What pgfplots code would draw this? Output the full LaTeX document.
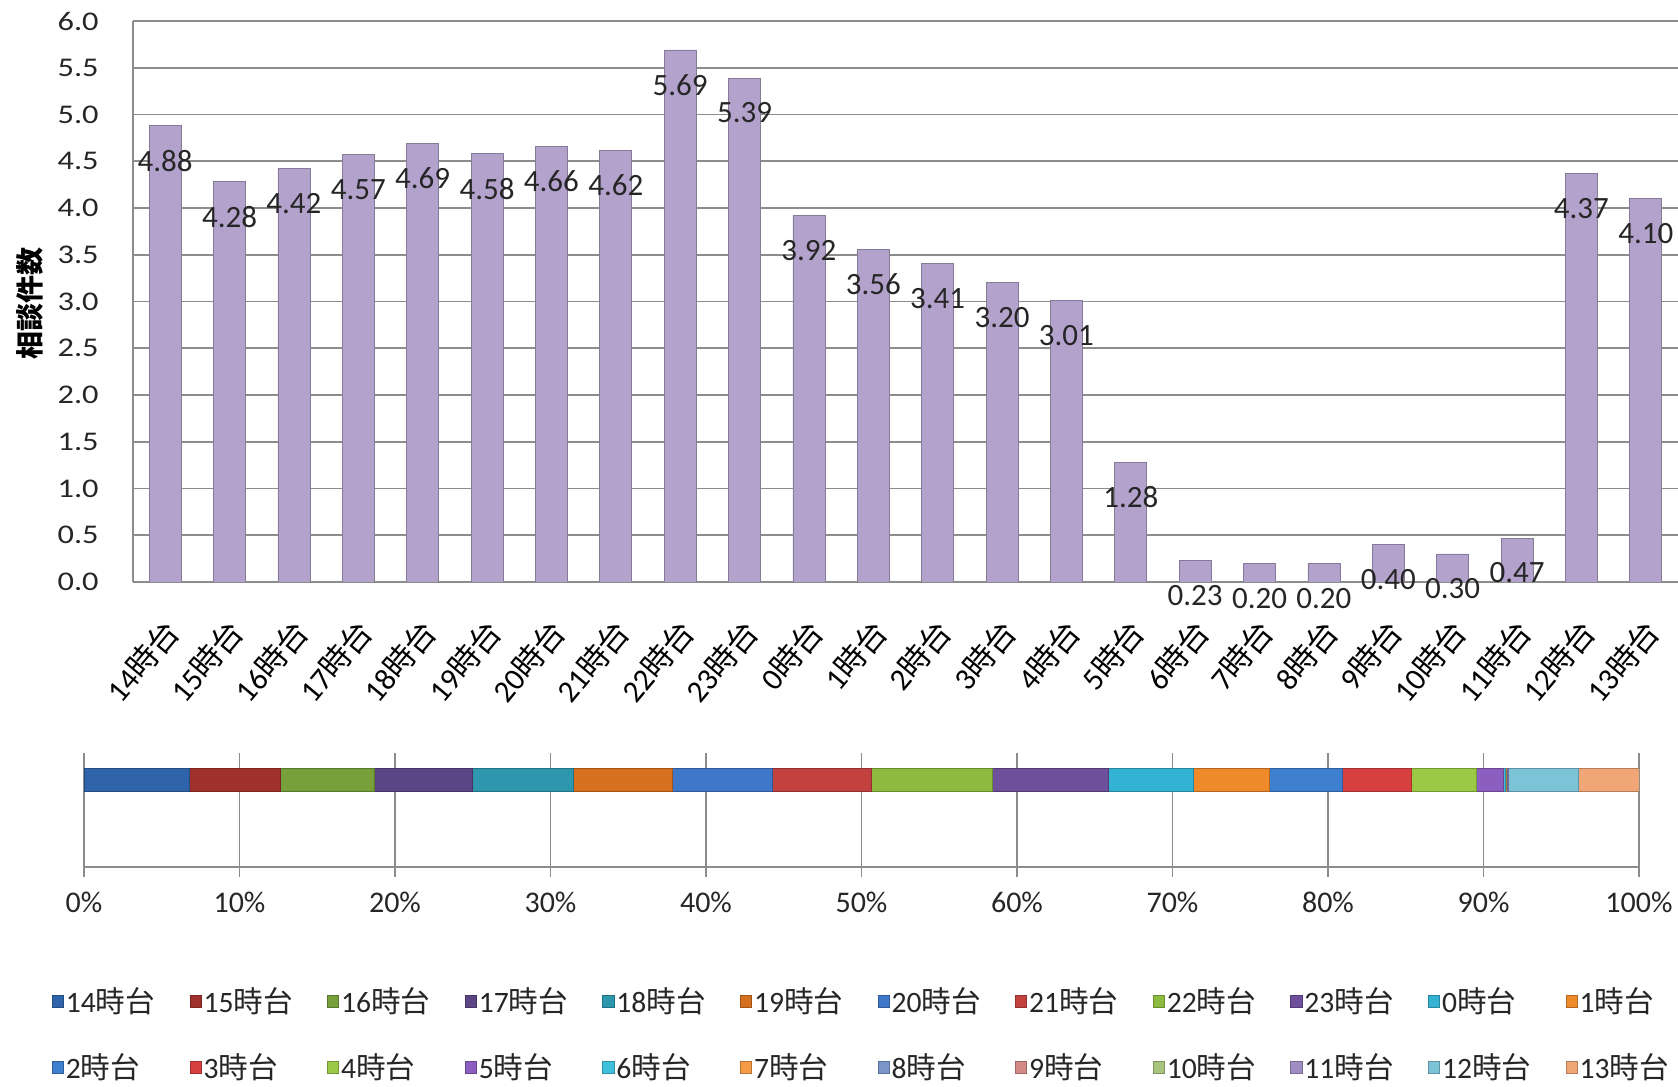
\documentclass[border=0pt]{standalone}
\usepackage{pgfplots}
\pgfplotsset{compat=1.18}
\usepackage{fontspec}
\setmainfont{Carlito}
\newfontfamily\jp{Noto Sans CJK JP}
\newfontfamily\tickfont[FakeStretch=1.2]{Carlito}

\definecolor{barfill}{HTML}{B3A3CC}
\definecolor{gridgray}{HTML}{8C8C8C}
\definecolor{txt}{HTML}{262626}
% colours of the 24 segments, in legend order
\definecolor{s14}{HTML}{2F64AA}
\definecolor{s15}{HTML}{A0302C}
\definecolor{s16}{HTML}{77A03A}
\definecolor{s17}{HTML}{5B4585}
\definecolor{s18}{HTML}{2D97AE}
\definecolor{s19}{HTML}{D5701E}
\definecolor{s20}{HTML}{3F78C8}
\definecolor{s21}{HTML}{C2403E}
\definecolor{s22}{HTML}{8DBB3F}
\definecolor{s23}{HTML}{6E4F9B}
\definecolor{s0}{HTML}{34B2D3}
\definecolor{s1}{HTML}{EE8A2A}
\definecolor{s2}{HTML}{3F7FCF}
\definecolor{s3}{HTML}{D8403F}
\definecolor{s4}{HTML}{9BC845}
\definecolor{s5}{HTML}{8B5EBF}
\definecolor{s6}{HTML}{3EC0DD}
\definecolor{s7}{HTML}{F59A45}
\definecolor{s8}{HTML}{7A95C8}
\definecolor{s9}{HTML}{D38986}
\definecolor{s10}{HTML}{A9C47F}
\definecolor{s11}{HTML}{A08EC3}
\definecolor{s12}{HTML}{7CC3D8}
\definecolor{s13}{HTML}{F0A676}

\newcommand{\jidai}[1]{#1{\jp 時台}}
\newcommand{\seg}[3]{%
  \addplot[fill=#1, draw=#1!75!black, line width=0.4pt, lg] coordinates {(#2,0.76)};
  \addlegendentry{\jidai{#3}}}

\pgfplotsset{lg/.style={legend image code/.code={%
  \draw[##1, line width=0.4pt] (0pt,-2.8pt) rectangle (5.6pt,2.8pt);}}}

\begin{document}
\begin{tikzpicture}[x=1pt,y=1pt]
\path[use as bounding box] (0,0) rectangle (839,543.5);

% top: bars per hour
\begin{axis}[
  at={(66.5pt,252.5pt)}, anchor=south west,
  width=772.5pt, height=280.5pt, scale only axis,
  xmin=-0.5, xmax=23.5, ymin=0, ymax=6,
  axis x line*=bottom, axis y line*=left,
  axis line style={gridgray, line width=0.9pt},
  ymajorgrids, grid style={gridgray, line width=0.9pt},
  major tick length=0pt,
  ytick={0,0.5,1,1.5,2,2.5,3,3.5,4,4.5,5,5.5,6},
  yticklabel style={font=\tickfont\fontsize{13.5}{15}\selectfont, text=txt,
    anchor=east, inner sep=0pt, xshift=-17pt,
    /pgf/number format/.cd, fixed, fixed zerofill, precision=1, assume math mode=true},
  xtick={0,...,23},
  xticklabels={\jidai{14},\jidai{15},\jidai{16},\jidai{17},\jidai{18},\jidai{19},
    \jidai{20},\jidai{21},\jidai{22},\jidai{23},\jidai{0},\jidai{1},\jidai{2},
    \jidai{3},\jidai{4},\jidai{5},\jidai{6},\jidai{7},\jidai{8},\jidai{9},
    \jidai{10},\jidai{11},\jidai{12},\jidai{13}},
  xticklabel style={font=\fontsize{15.5}{18}\selectfont, text=black,
    xshift=-2pt, yshift=-17pt, rotate=50, anchor=north east, inner sep=0pt},
  ylabel={\jp\bfseries 相談件数},
  every axis y label/.style={at={(axis description cs:-0.0667,0.497)},
    rotate=90, anchor=center, font=\fontsize{14}{16}\selectfont},
]
\addplot[ybar, bar width=16pt, fill=barfill, draw=barfill!75!black, line width=0.4pt,
  nodes near coords={\pgfmathprintnumber[fixed,fixed zerofill,precision=2,assume math mode=true]{\pgfplotspointmeta}},
  every node near coord/.append style={font=\fontsize{15.5}{18}\selectfont, text=txt,
    anchor=center, yshift=-17.5pt}]
coordinates {
(0,4.88)(1,4.28)(2,4.42)(3,4.57)(4,4.69)(5,4.58)(6,4.66)(7,4.62)
(8,5.69)(9,5.39)(10,3.92)(11,3.56)(12,3.41)(13,3.20)(14,3.01)(15,1.28)
(16,0.23)(17,0.20)(18,0.20)(19,0.40)(20,0.30)(21,0.47)(22,4.37)(23,4.10)
};
\end{axis}

% bottom: 100% stacked bar
\begin{axis}[
  at={(42pt,110pt)}, anchor=south west,
  width=777.5pt, height=57pt, scale only axis,
  xbar stacked, bar width=11.5pt,
  xmin=0, xmax=100, ymin=0, ymax=1,
  axis x line*=bottom, axis y line=none,
  axis line style={gridgray, line width=0.9pt},
  xmajorgrids, grid style={gridgray, line width=0.9pt},
  tick style={gridgray, line width=0.9pt},
  tick align=outside, major tick length=5pt, xtick pos=bottom,
  ytick=\empty,
  xtick={0,10,...,100},
  xticklabels={0\%,10\%,20\%,30\%,40\%,50\%,60\%,70\%,80\%,90\%,100\%},
  xticklabel style={font=\fontsize{15}{17}\selectfont, text=txt, yshift=-4pt},
  legend columns=12,
  legend cell align=left,
  legend style={draw=none, fill=none, at={(axis description cs:-0.0247,-1.0)},
    anchor=north west, font=\fontsize{14.8}{17}\selectfont, text=txt,
    row sep=17pt, nodes={inner sep=1pt},
    /tikz/every even column/.append style={column sep=16.2pt}},
]
\seg{s14}{6.75}{14}
\seg{s15}{5.91}{15}
\seg{s16}{6.04}{16}
\seg{s17}{6.30}{17}
\seg{s18}{6.49}{18}
\seg{s19}{6.36}{19}
\seg{s20}{6.43}{20}
\seg{s21}{6.36}{21}
\seg{s22}{7.78}{22}
\seg{s23}{7.46}{23}
\seg{s0}{5.46}{0}
\seg{s1}{4.88}{1}
\seg{s2}{4.69}{2}
\seg{s3}{4.43}{3}
\seg{s4}{4.18}{4}
\seg{s5}{1.74}{5}
\seg{s6}{0.13}{6}
\seg{s7}{0.06}{7}
\seg{s8}{0.06}{8}
\seg{s9}{0.03}{9}
\seg{s10}{0.02}{10}
\seg{s11}{0.01}{11}
\seg{s12}{4.56}{12}
\seg{s13}{3.87}{13}
\end{axis}
\end{tikzpicture}
\end{document}
